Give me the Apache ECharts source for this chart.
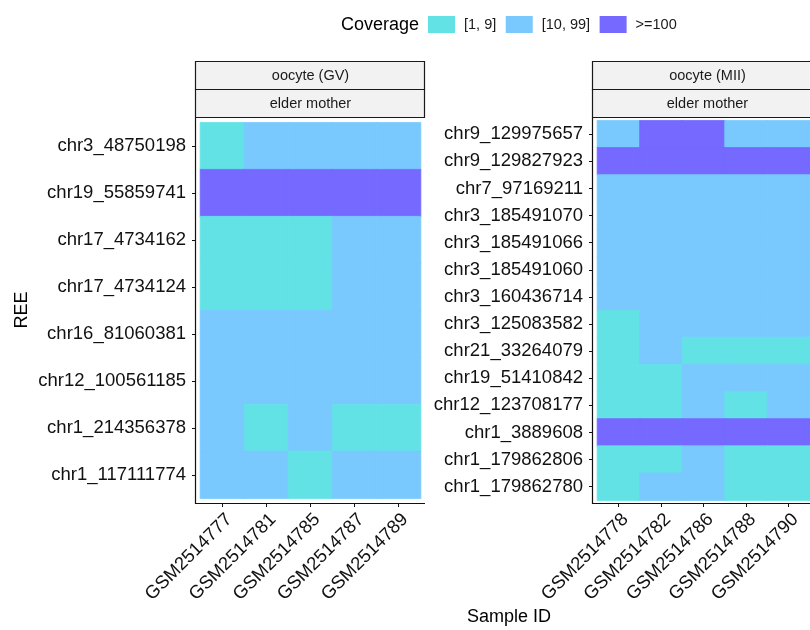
<!DOCTYPE html>
<html><head><meta charset="utf-8">
<script src="https://cdn.jsdelivr.net/npm/echarts@6/dist/echarts.min.js"></script>
<style>html,body{margin:0;padding:0;background:#fff}#c{width:810px;height:630px}</style>
</head><body><div id="c"></div>
<script>
// ---- data ----
const coverageLevels = ['[1, 9]', '[10, 99]', '>=100'];
const coverageColors = ['#63E2E6', '#79C9FF', '#7569FF'];

const panelTitles = ['oocyte (GV)', 'oocyte (MII)'];
const groupTitle = 'elder mother';

const gvSamples = ['GSM2514777', 'GSM2514781', 'GSM2514785', 'GSM2514787', 'GSM2514789'];
// rows listed top to bottom
const gvRegions = ['chr3_48750198', 'chr19_55859741', 'chr17_4734162', 'chr17_4734124',
  'chr16_81060381', 'chr12_100561185', 'chr1_214356378', 'chr1_117111774'];
// index into coverageLevels, one row per region, one column per sample
const gvCoverage = [
  [0, 1, 1, 1, 1],
  [2, 2, 2, 2, 2],
  [0, 0, 0, 1, 1],
  [0, 0, 0, 1, 1],
  [1, 1, 1, 1, 1],
  [1, 1, 1, 1, 1],
  [1, 0, 1, 0, 0],
  [1, 1, 0, 1, 1]
];

const miiSamples = ['GSM2514778', 'GSM2514782', 'GSM2514786', 'GSM2514788', 'GSM2514790'];
const miiRegions = ['chr9_129975657', 'chr9_129827923', 'chr7_97169211', 'chr3_185491070',
  'chr3_185491066', 'chr3_185491060', 'chr3_160436714', 'chr3_125083582', 'chr21_33264079',
  'chr19_51410842', 'chr12_123708177', 'chr1_3889608', 'chr1_179862806', 'chr1_179862780'];
const miiCoverage = [
  [1, 2, 2, 1, 1],
  [2, 2, 2, 2, 2],
  [1, 1, 1, 1, 1],
  [1, 1, 1, 1, 1],
  [1, 1, 1, 1, 1],
  [1, 1, 1, 1, 1],
  [1, 1, 1, 1, 1],
  [0, 1, 1, 1, 1],
  [0, 1, 0, 0, 0],
  [0, 0, 1, 1, 1],
  [0, 0, 1, 0, 1],
  [2, 2, 2, 2, 2],
  [0, 0, 1, 0, 0],
  [0, 1, 1, 0, 0]
];

// ---- build ----
function cells(matrix) {
  const out = [];
  matrix.forEach((row, i) => row.forEach((v, j) => out.push({
    value: [j, i, v],
    itemStyle: { borderColor: coverageColors[v], borderWidth: 0.8 }
  })));
  return out;
}

const FONT = '"Liberation Sans", Arial, Helvetica, sans-serif';
const PANEL_TOP = 118, PANEL_BOTTOM = 503, PANEL_W = 229;
const panelX = [196, 593];

function grid(px, nRows) {
  const h = PANEL_BOTTOM - PANEL_TOP;
  const unitY = h / (nRows + 0.2);
  const unitX = PANEL_W / 5.2;
  return {
    left: px + unitX * 0.1, top: PANEL_TOP + unitY * 0.1,
    width: unitX * 5, height: unitY * nRows,
    offX: unitX * 0.1, offY: unitY * 0.1
  };
}
const g0 = grid(panelX[0], gvRegions.length);
const g1 = grid(panelX[1], miiRegions.length);

function xAxis(idx, samples, g) {
  return {
    type: 'category', gridIndex: idx, data: samples, position: 'bottom',
    offset: g.offY,
    axisLine: { show: false },
    axisTick: { show: true, alignWithLabel: true, length: 4, lineStyle: { color: '#111', width: 1 } },
    axisLabel: { interval: 0, rotate: 45, margin: 7, align: 'right', verticalAlign: 'top',
      fontSize: 18.5, fontFamily: FONT, color: '#111' },
    splitLine: { show: false }
  };
}
function yAxis(idx, regions, g) {
  return {
    type: 'category', gridIndex: idx, data: regions, inverse: true,
    offset: g.offX,
    axisLine: { show: false },
    axisTick: { show: true, alignWithLabel: true, length: 4, lineStyle: { color: '#111', width: 1 } },
    axisLabel: { interval: 0, margin: 10, fontSize: 18.5, fontFamily: FONT, color: '#111' },
    splitLine: { show: false }
  };
}

const graphics = [];
panelX.forEach((px, k) => {
  graphics.push({ type: 'rect', shape: { x: px - 0.5, y: 61.5, width: PANEL_W, height: 28 },
    style: { fill: '#F2F2F2', stroke: '#1a1a1a', lineWidth: 1.2 } });
  graphics.push({ type: 'rect', shape: { x: px - 0.5, y: 89.5, width: PANEL_W, height: 28 },
    style: { fill: '#F2F2F2', stroke: '#1a1a1a', lineWidth: 1.2 } });
  graphics.push({ type: 'text', x: px + PANEL_W / 2, y: 75.5,
    style: { text: panelTitles[k], align: 'center', verticalAlign: 'middle',
      font: '14.5px ' + FONT, fill: '#1a1a1a' } });
  graphics.push({ type: 'text', x: px + PANEL_W / 2, y: 103.5,
    style: { text: groupTitle, align: 'center', verticalAlign: 'middle',
      font: '14.5px ' + FONT, fill: '#1a1a1a' } });
  graphics.push({ type: 'polyline', shape: { points: [[px - 0.5, PANEL_TOP], [px - 0.5, PANEL_BOTTOM + 0.5], [px + PANEL_W, PANEL_BOTTOM + 0.5]] },
    style: { stroke: '#111', lineWidth: 1.2, fill: null } });
});
graphics.push({ type: 'text', x: 22, y: 310, rotation: Math.PI / 2,
  style: { text: 'REE', align: 'center', verticalAlign: 'middle', font: '18px ' + FONT, fill: '#000' } });
graphics.push({ type: 'text', x: 509, y: 617,
  style: { text: 'Sample ID', align: 'center', verticalAlign: 'middle', font: '18px ' + FONT, fill: '#000' } });
graphics.push({ type: 'text', x: 341, y: 25,
  style: { text: 'Coverage', align: 'left', verticalAlign: 'middle', font: '18px ' + FONT, fill: '#000' } });

const chart = echarts.init(document.getElementById('c'), null, { renderer: 'canvas' });
chart.setOption({
  animation: false,
  backgroundColor: '#fff',
  grid: [
    { left: g0.left, top: g0.top, width: g0.width, height: g0.height, containLabel: false },
    { left: g1.left, top: g1.top, width: g1.width, height: g1.height, containLabel: false }
  ],
  xAxis: [xAxis(0, gvSamples, g0), xAxis(1, miiSamples, g1)],
  yAxis: [yAxis(0, gvRegions, g0), yAxis(1, miiRegions, g1)],
  visualMap: {
    type: 'piecewise', orient: 'horizontal', left: 428, top: 16, padding: 0,
    seriesIndex: [0, 1], dimension: 2,
    pieces: coverageLevels.map((lab, i) => ({ value: i, label: lab, color: coverageColors[i] })),
    itemWidth: 27, itemHeight: 17, itemGap: 9.5, textGap: 9, itemSymbol: 'rect',
    selectedMode: false, hoverLink: false,
    textStyle: { fontSize: 14.5, fontFamily: FONT, color: '#1a1a1a' }
  },
  series: [
    { type: 'heatmap', xAxisIndex: 0, yAxisIndex: 0, data: cells(gvCoverage),
      emphasis: { disabled: true } },
    { type: 'heatmap', xAxisIndex: 1, yAxisIndex: 1, data: cells(miiCoverage),
      emphasis: { disabled: true } }
  ],
  graphic: graphics
});
</script></body></html>
